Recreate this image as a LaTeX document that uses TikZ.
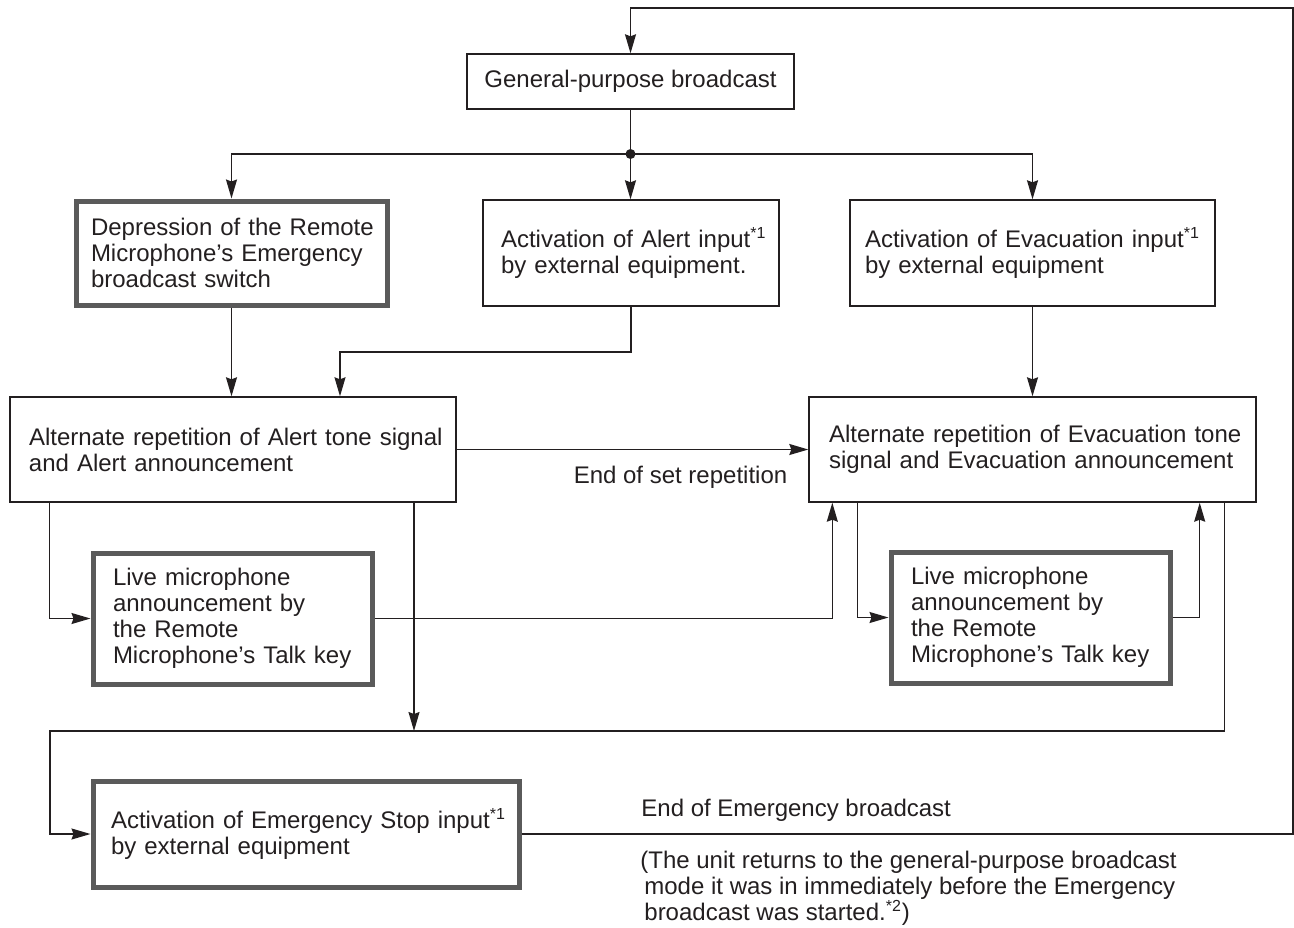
\documentclass[tikz,border=0pt]{standalone}
\usepackage{fontspec}
\setmainfont{Liberation Sans}
\usetikzlibrary{arrows.meta}
\definecolor{linecol}{HTML}{231F20}
\definecolor{thickcol}{HTML}{5A5A5A}
\tikzset{
  basefont/.style={font=\fontsize{12pt}{13pt}\selectfont, text=linecol},
  thinbox/.style={basefont, draw=linecol, line width=0.7pt, rectangle, inner xsep=0pt, inner ysep=0pt, align=left},
  thickbox/.style={basefont, draw=thickcol, line width=2.5pt, rectangle, inner xsep=0pt, inner ysep=0pt, align=left},
  conn/.style={draw=linecol, line width=0.7pt},
  arr/.style={conn, -{Stealth[length=9.5pt,width=5.5pt,inset=1pt]}},
  plain/.style={basefont, inner sep=0pt, align=left}
}
\begin{document}
\begin{tikzpicture}[x=0.5pt,y=-0.5pt]
\useasboundingbox (0,0) rectangle (1294,927);

% boxes
\node[thinbox, align=center, minimum width=163.5pt, minimum height=27.5pt] (gen) at (630.5,81.5) {General-purpose broadcast};

\node[thickbox, text width=155.5pt, minimum height=52pt] (dep) at (231.5,253)
  {\leftskip=7.5pt Depression of the Remote\\Microphone's Emergency\\broadcast switch\par};
\node[thinbox, text width=148pt, minimum height=53pt] (alin) at (631,253)
  {\leftskip=9pt Activation of Alert input\textsuperscript{*1}\\by external equipment.\par};
\node[thinbox, text width=182.5pt, minimum height=53pt] (evin) at (1032.5,253)
  {\leftskip=7.5pt Activation of Evacuation input\textsuperscript{*1}\\by external equipment\par};

\node[thinbox, text width=223pt, minimum height=52.5pt] (alrep) at (233,449.5)
  {\leftskip=9.5pt Alternate repetition of Alert tone signal\\and Alert announcement\par};
\node[thinbox, text width=223.5pt, minimum height=52.5pt] (evrep) at (1032.5,449.5)
  {\leftskip=10pt Alternate repetition of Evacuation tone\\signal and Evacuation announcement\par};

\node[thickbox, text width=139.5pt, minimum height=65.5pt] (live1) at (232.5,618.5)
  {\leftskip=10pt Live microphone\\announcement by\\the Remote\\Microphone's Talk key\par};
\node[thickbox, text width=139.5pt, minimum height=65.5pt] (live2) at (1030.5,617.5)
  {\leftskip=10pt Live microphone\\announcement by\\the Remote\\Microphone's Talk key\par};

\node[thickbox, text width=213pt, minimum height=53pt] (stop) at (306,834)
  {\leftskip=9pt Activation of Emergency Stop input\textsuperscript{*1}\\by external equipment\par};

% labels
\node[plain] (endset) at (680.5,477) {End of set repetition};
\node[plain, anchor=west] (endemg) at (641,810) {End of Emergency broadcast};
\node[plain, anchor=west] (note) at (640,888)
  {(The unit returns to the general-purpose broadcast\\
   \hspace*{2pt}mode it was in immediately before the Emergency\\
   \hspace*{2pt}broadcast was started.\textsuperscript{*2})};

% coordinates
\coordinate (jn) at (630.5,154);
\coordinate (bend) at (340,352);
\coordinate (busL) at (50,731);
\coordinate (drop) at (414,731);
\coordinate (loopTR) at (1293,8);

% connectors
\draw[arr] (stop.east) -| (loopTR) -| (gen.north);
\draw[conn] (gen.south) -- (jn);
\fill[linecol] (jn) circle (2.5pt);
\draw[arr] (jn) -| (dep.north);
\draw[arr] (jn) -- (jn |- alin.north);
\draw[arr] (jn) -| (evin.north);

\draw[arr] (dep.south) -- (dep.south |- alrep.north);
\draw[arr] (alin.south) |- (bend) -- (bend |- alrep.north);
\draw[arr] (evin.south) -- (evin.south |- evrep.north);

\draw[arr] (alrep.east) -- (evrep.west);

\draw[arr] ([xshift=20pt]alrep.south west) |- (live1.west);
\draw[arr] (live1.east) -| ([xshift=12pt]evrep.south west);
\draw[arr] (alrep.south -| drop) -- (drop);
\draw[arr] ([xshift=24.5pt]evrep.south west) |- (live2.west);
\draw[arr] (live2.east) -| ([xshift=-28.5pt]evrep.south east);
\draw[arr] ([xshift=-16pt]evrep.south east) |- (busL) |- (stop.west);
\end{tikzpicture}
\end{document}
